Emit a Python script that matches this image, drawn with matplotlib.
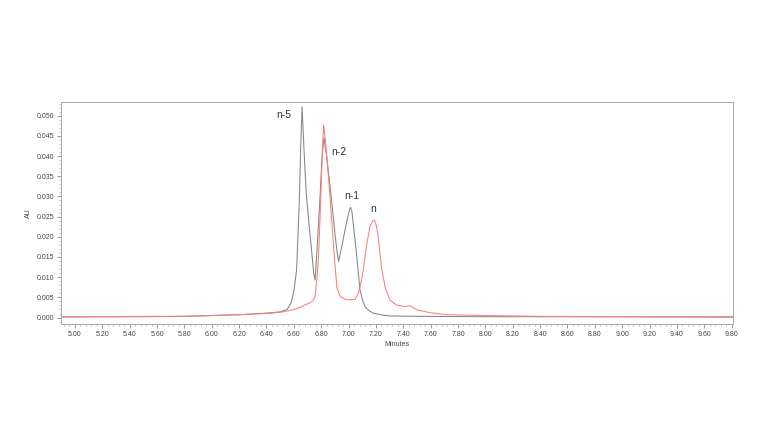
import matplotlib
matplotlib.use("Agg")
import matplotlib.pyplot as plt
from matplotlib.ticker import MultipleLocator, FormatStrFormatter

# ---- data ----
grey_t = [4.90, 5.20, 5.50, 5.80, 6.00, 6.20, 6.40, 6.50, 6.55, 6.58, 6.60, 6.62,
          6.63, 6.64, 6.65, 6.66, 6.675, 6.69, 6.71, 6.73, 6.745, 6.755, 6.77,
          6.79, 6.805, 6.82, 6.84, 6.874, 6.90, 6.915, 6.927, 6.95, 6.974,
          6.995, 7.005, 7.015, 7.025, 7.035, 7.06, 7.083, 7.10, 7.12, 7.15, 7.18,
          7.25, 7.30, 7.50, 8.00, 9.00, 9.81]
grey_v = [0.00015, 0.0002, 0.0002, 0.0003, 0.0005, 0.0007, 0.0011, 0.0014, 0.0020,
          0.0036, 0.0065, 0.0118, 0.0200, 0.0290, 0.0420, 0.0522, 0.0410, 0.0310,
          0.0235, 0.0165, 0.0110, 0.0093, 0.0170, 0.0290, 0.0390, 0.0446, 0.0400,
          0.0296, 0.0210, 0.0165, 0.0139, 0.0175, 0.0217, 0.0250, 0.0266, 0.0273,
          0.0262, 0.0230, 0.0151, 0.0069, 0.0045, 0.0027, 0.0017, 0.0011, 0.0006,
          0.0004, 0.0003, 0.0002, 0.0002, 0.0001]

red_t = [4.90, 5.20, 5.50, 5.80, 6.00, 6.20, 6.40, 6.52, 6.60, 6.645, 6.68, 6.72,
         6.745, 6.757, 6.768, 6.781, 6.795, 6.808, 6.818, 6.83, 6.856, 6.875,
         6.891, 6.915, 6.94, 6.97, 7.00, 7.047, 7.071, 7.09, 7.108, 7.13, 7.156,
         7.175, 7.188, 7.205, 7.217, 7.24, 7.266, 7.30, 7.35, 7.41, 7.45, 7.50,
         7.595, 7.72, 8.00, 8.40, 9.00, 9.81]
red_v = [0.0002, 0.0002, 0.0003, 0.0003, 0.0005, 0.0007, 0.0010, 0.0014, 0.0020,
         0.0025, 0.0031, 0.0037, 0.0044, 0.0056, 0.0095, 0.0155, 0.0280, 0.0410,
         0.0477, 0.0440, 0.0337, 0.0250, 0.0172, 0.0073, 0.0052, 0.0046, 0.0044,
         0.0045, 0.0060, 0.0085, 0.0118, 0.0176, 0.0225, 0.0238, 0.0242, 0.0225,
         0.0200, 0.0126, 0.0077, 0.0044, 0.0031, 0.0027, 0.0029, 0.0019, 0.0012,
         0.0007, 0.0005, 0.0003, 0.0002, 0.0002]

peak_labels = ["n-5", "n-2", "n-1", "n"]
peak_label_t = [6.53, 6.93, 7.025, 7.178]
peak_label_v = [0.0502, 0.0410, 0.0301, 0.0269]

plt.rcParams['font.family'] = ['Liberation Sans', 'DejaVu Sans']

fig = plt.figure(figsize=(7.68, 4.32), dpi=100)
ax = fig.add_axes([61/768, 1-324/432, (733-61)/768, (324-102)/432])

ax.plot(grey_t, grey_v, color='#858585', lw=0.75)
ax.plot(red_t, red_v, color='#ff7b7b', lw=0.75)

for lab, t, v in zip(peak_labels, peak_label_t, peak_label_v):
    ax.text(t, v, lab, fontsize=7.5, color='#333333', ha='center', va='center')

ax.set_xlim(4.898, 9.81)
ax.set_ylim(-0.0016, 0.0534)

ax.xaxis.set_major_locator(MultipleLocator(0.2))
ax.xaxis.set_minor_locator(MultipleLocator(0.04))
ax.xaxis.set_major_formatter(FormatStrFormatter('%.2f'))
ax.yaxis.set_major_locator(MultipleLocator(0.005))
ax.yaxis.set_minor_locator(MultipleLocator(0.001))
ax.yaxis.set_major_formatter(FormatStrFormatter('%.3f'))

ax.tick_params(which='major', length=3, width=0.6, color='#888888',
               labelsize=5, labelcolor='#444444', pad=2)
ax.tick_params(which='minor', length=1.5, width=0.5, color='#aaaaaa')

for s in ax.spines.values():
    s.set_color('#aaaaaa')
    s.set_linewidth(0.7)

ax.set_xlabel('Minutes', fontsize=5, color='#444444', labelpad=2)
ax.set_ylabel('AU', fontsize=5, color='#444444', labelpad=3)

fig.savefig('out.png', dpi=100)
